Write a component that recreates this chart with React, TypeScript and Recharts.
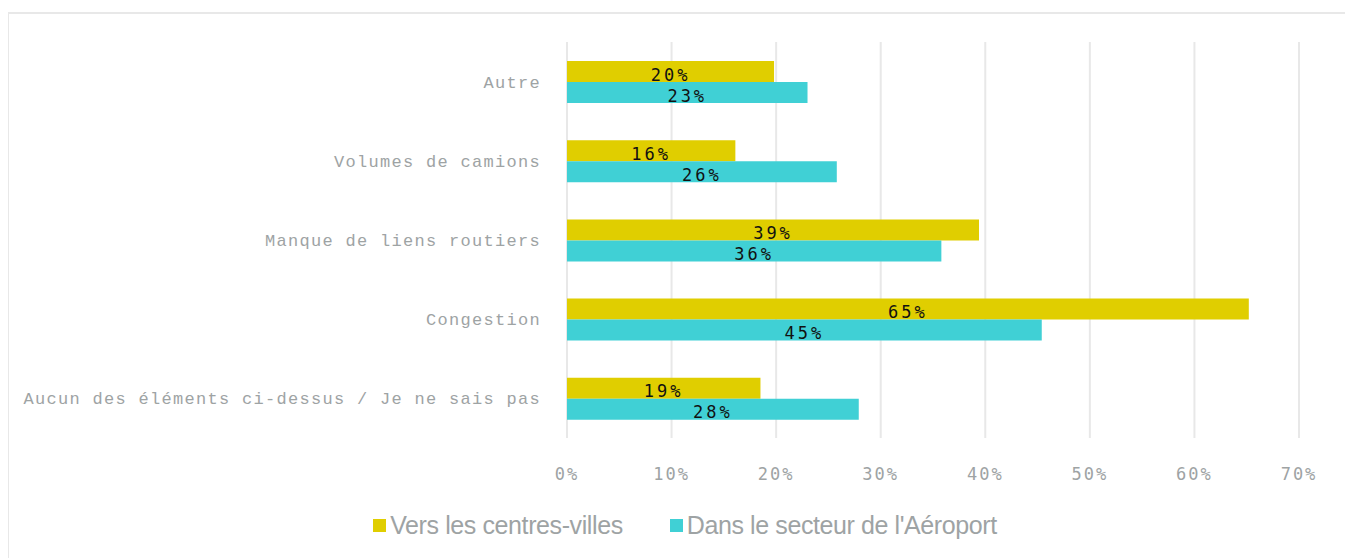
import { BarChart, Bar, XAxis, YAxis, CartesianGrid, Legend, LabelList } from "recharts";

const categories = [
  "Autre",
  "Volumes de camions",
  "Manque de liens routiers",
  "Congestion",
  "Aucun des éléments ci-dessus / Je ne sais pas",
];
const versCentresVilles = [19.8, 16.1, 39.4, 65.2, 18.5];
const secteurAeroport = [23.0, 25.8, 35.8, 45.4, 27.9];
const xTicks = [0, 10, 20, 30, 40, 50, 60, 70];

const YELLOW = "#e0ce00";
const CYAN = "#40d0d5";
const GRAY = "#9ea3a4";

const data = categories.map((name, i) => ({
  name,
  centres: versCentresVilles[i],
  aeroport: secteurAeroport[i],
}));

const series = [
  { key: "centres", label: "Vers les centres-villes", color: YELLOW },
  { key: "aeroport", label: "Dans le secteur de l'Aéroport", color: CYAN },
];

const LegendContent = () => (
  <div
    style={{
      display: "flex",
      justifyContent: "center",
      gap: 47,
      fontFamily: "'Liberation Sans', Arial, sans-serif",
      fontSize: 25,
      letterSpacing: -0.4,
      lineHeight: "30px",
      color: GRAY,
      paddingLeft: 62,
    }}
  >
    {series.map((s) => (
      <div key={s.key} style={{ display: "flex", alignItems: "center" }}>
        <span style={{ width: 13, height: 13, background: s.color, marginRight: 4 }} />
        <span>{s.label}</span>
      </div>
    ))}
  </div>
);

const pct = (v: any) => `${Math.round(Number(v))}%`;

export default function App() {
  return (
    <div
      style={{
        position: "relative",
        width: 1343,
        height: 560,
        border: "2px solid #e8e8e8",
        marginTop: 4,
        marginLeft: -1,
        background: "#fff",
      }}
    >
      <BarChart
        width={1339}
        height={545}
        data={data}
        layout="vertical"
        margin={{ top: 28, right: 49, left: 0, bottom: 19 }}
        barCategoryGap="24%"
        barGap={0}
      >
        <CartesianGrid horizontal={false} stroke="#e8e8e8" strokeWidth={2} />
        <XAxis
          type="number"
          domain={[0, 70]}
          ticks={xTicks}
          tickFormatter={(v) => `${v}%`}
          axisLine={false}
          tickLine={false}
          tickSize={0}
          tickMargin={30}
          height={72}
          tick={{ fill: GRAY, fontSize: 17, fontFamily: "'DejaVu Sans Mono', monospace", letterSpacing: 2 }}
        />
        <YAxis
          type="category"
          dataKey="name"
          width={558}
          axisLine={false}
          tickLine={false}
          tickSize={0}
          tickMargin={26}
          tick={{ fill: GRAY, fontSize: 17, fontFamily: "'Liberation Mono', monospace", letterSpacing: 1.3 }}
        />
        <Legend verticalAlign="bottom" content={<LegendContent />} />
        {series.map((s) => (
          <Bar key={s.key} dataKey={s.key} name={s.label} fill={s.color} isAnimationActive={false}>
            <LabelList
              dataKey={s.key}
              position="center"
              formatter={pct}
              fill="#111"
              fontSize={17}
              fontFamily="'DejaVu Sans Mono', monospace"
              letterSpacing={3}
              dy={3}
            />
          </Bar>
        ))}
      </BarChart>
    </div>
  );
}
